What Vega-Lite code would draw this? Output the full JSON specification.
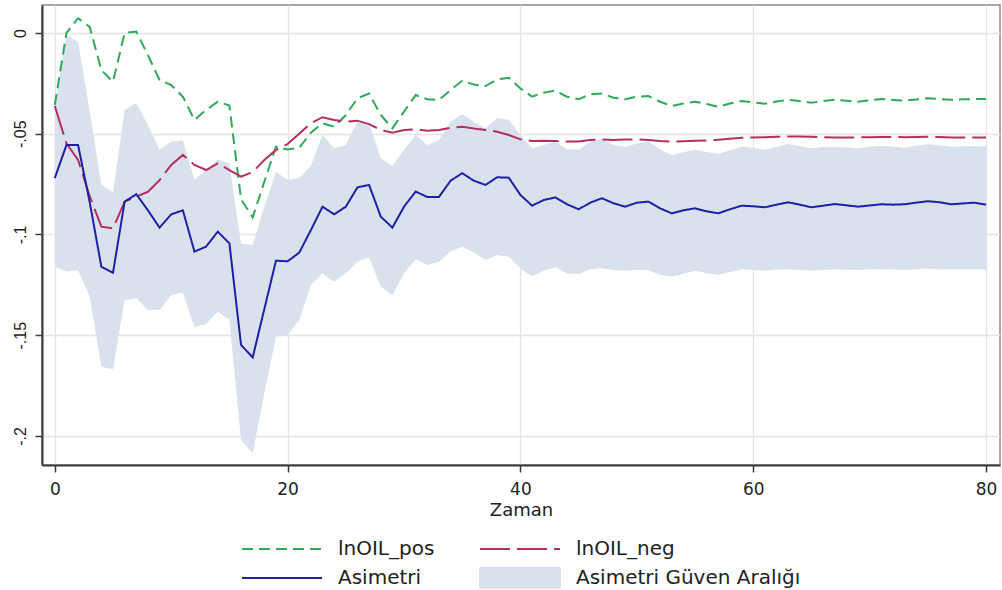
{
  "$schema": "https://vega.github.io/schema/vega-lite/v6.json",
  "autosize": {"type": "none"},
  "width": 958,
  "height": 460,
  "padding": {"left": 42, "top": 5, "right": 2, "bottom": 125},
  "background": "white",
  "config": {
    "font": "DejaVu Sans",
    "view": {"stroke": "#8c8c8c", "strokeWidth": 1.5},
    "axis": {
      "gridColor": "#e4e4e4",
      "gridWidth": 1.3,
      "domainColor": "#3a3a3a",
      "domainWidth": 2,
      "tickColor": "#3a3a3a",
      "tickWidth": 1.5,
      "tickSize": 7,
      "labelColor": "#222222",
      "titleColor": "#222222",
      "labelFont": "DejaVu Sans",
      "titleFont": "DejaVu Sans"
    },
    "legend": {"layout": {"bottom": {"anchor": "middle"}}}
  },
  "data": {"values": [
    {"t":0,"lnOIL_pos":-0.0357,"lnOIL_neg":-0.0362,"Asimetri":-0.0720,"lo":-0.1160,"hi":-0.0360},
    {"t":1,"lnOIL_pos":0.0000,"lnOIL_neg":-0.0548,"Asimetri":-0.0556,"lo":-0.1184,"hi":-0.0010},
    {"t":2,"lnOIL_pos":0.0073,"lnOIL_neg":-0.0630,"Asimetri":-0.0556,"lo":-0.1176,"hi":-0.0043},
    {"t":3,"lnOIL_pos":0.0030,"lnOIL_neg":-0.0810,"Asimetri":-0.0840,"lo":-0.1309,"hi":-0.0390},
    {"t":4,"lnOIL_pos":-0.0184,"lnOIL_neg":-0.0961,"Asimetri":-0.1160,"lo":-0.1656,"hi":-0.0754},
    {"t":5,"lnOIL_pos":-0.0242,"lnOIL_neg":-0.0970,"Asimetri":-0.1190,"lo":-0.1669,"hi":-0.0792},
    {"t":6,"lnOIL_pos":0.0000,"lnOIL_neg":-0.0837,"Asimetri":-0.0837,"lo":-0.1325,"hi":-0.0382},
    {"t":7,"lnOIL_pos":0.0007,"lnOIL_neg":-0.0812,"Asimetri":-0.0800,"lo":-0.1317,"hi":-0.0346},
    {"t":8,"lnOIL_pos":-0.0110,"lnOIL_neg":-0.0788,"Asimetri":-0.0880,"lo":-0.1375,"hi":-0.0457},
    {"t":9,"lnOIL_pos":-0.0233,"lnOIL_neg":-0.0730,"Asimetri":-0.0966,"lo":-0.1375,"hi":-0.0580},
    {"t":10,"lnOIL_pos":-0.0258,"lnOIL_neg":-0.0655,"Asimetri":-0.0900,"lo":-0.1300,"hi":-0.0540},
    {"t":11,"lnOIL_pos":-0.0316,"lnOIL_neg":-0.0605,"Asimetri":-0.0880,"lo":-0.1287,"hi":-0.0531},
    {"t":12,"lnOIL_pos":-0.0432,"lnOIL_neg":-0.0655,"Asimetri":-0.1085,"lo":-0.1460,"hi":-0.0730},
    {"t":13,"lnOIL_pos":-0.0382,"lnOIL_neg":-0.0680,"Asimetri":-0.1060,"lo":-0.1444,"hi":-0.0680},
    {"t":14,"lnOIL_pos":-0.0341,"lnOIL_neg":-0.0647,"Asimetri":-0.0986,"lo":-0.1383,"hi":-0.0627},
    {"t":15,"lnOIL_pos":-0.0360,"lnOIL_neg":-0.0680,"Asimetri":-0.1044,"lo":-0.1424,"hi":-0.0650},
    {"t":16,"lnOIL_pos":-0.0825,"lnOIL_neg":-0.0713,"Asimetri":-0.1548,"lo":-0.2020,"hi":-0.1047},
    {"t":17,"lnOIL_pos":-0.0915,"lnOIL_neg":-0.0690,"Asimetri":-0.1610,"lo":-0.2086,"hi":-0.1052},
    {"t":18,"lnOIL_pos":-0.0738,"lnOIL_neg":-0.0630,"Asimetri":-0.1370,"lo":-0.1787,"hi":-0.0862},
    {"t":19,"lnOIL_pos":-0.0564,"lnOIL_neg":-0.0580,"Asimetri":-0.1130,"lo":-0.1507,"hi":-0.0688},
    {"t":20,"lnOIL_pos":-0.0578,"lnOIL_neg":-0.0551,"Asimetri":-0.1133,"lo":-0.1499,"hi":-0.0730},
    {"t":21,"lnOIL_pos":-0.0570,"lnOIL_neg":-0.0500,"Asimetri":-0.1090,"lo":-0.1424,"hi":-0.0720},
    {"t":22,"lnOIL_pos":-0.0495,"lnOIL_neg":-0.0448,"Asimetri":-0.0978,"lo":-0.1250,"hi":-0.0660},
    {"t":23,"lnOIL_pos":-0.0448,"lnOIL_neg":-0.0418,"Asimetri":-0.0862,"lo":-0.1193,"hi":-0.0506},
    {"t":24,"lnOIL_pos":-0.0465,"lnOIL_neg":-0.0432,"Asimetri":-0.0900,"lo":-0.1234,"hi":-0.0572},
    {"t":25,"lnOIL_pos":-0.0407,"lnOIL_neg":-0.0440,"Asimetri":-0.0862,"lo":-0.1193,"hi":-0.0556},
    {"t":26,"lnOIL_pos":-0.0324,"lnOIL_neg":-0.0435,"Asimetri":-0.0766,"lo":-0.1135,"hi":-0.0440},
    {"t":27,"lnOIL_pos":-0.0300,"lnOIL_neg":-0.0452,"Asimetri":-0.0754,"lo":-0.1113,"hi":-0.0448},
    {"t":28,"lnOIL_pos":-0.0407,"lnOIL_neg":-0.0481,"Asimetri":-0.0911,"lo":-0.1259,"hi":-0.0622},
    {"t":29,"lnOIL_pos":-0.0473,"lnOIL_neg":-0.0495,"Asimetri":-0.0966,"lo":-0.1300,"hi":-0.0660},
    {"t":30,"lnOIL_pos":-0.0390,"lnOIL_neg":-0.0481,"Asimetri":-0.0862,"lo":-0.1193,"hi":-0.0580},
    {"t":31,"lnOIL_pos":-0.0308,"lnOIL_neg":-0.0478,"Asimetri":-0.0787,"lo":-0.1123,"hi":-0.0506},
    {"t":32,"lnOIL_pos":-0.0329,"lnOIL_neg":-0.0485,"Asimetri":-0.0814,"lo":-0.1151,"hi":-0.0556},
    {"t":33,"lnOIL_pos":-0.0333,"lnOIL_neg":-0.0481,"Asimetri":-0.0814,"lo":-0.1135,"hi":-0.0531},
    {"t":34,"lnOIL_pos":-0.0283,"lnOIL_neg":-0.0470,"Asimetri":-0.0733,"lo":-0.1085,"hi":-0.0440},
    {"t":35,"lnOIL_pos":-0.0237,"lnOIL_neg":-0.0465,"Asimetri":-0.0696,"lo":-0.1060,"hi":-0.0402},
    {"t":36,"lnOIL_pos":-0.0256,"lnOIL_neg":-0.0474,"Asimetri":-0.0733,"lo":-0.1090,"hi":-0.0440},
    {"t":37,"lnOIL_pos":-0.0263,"lnOIL_neg":-0.0481,"Asimetri":-0.0754,"lo":-0.1127,"hi":-0.0473},
    {"t":38,"lnOIL_pos":-0.0230,"lnOIL_neg":-0.0490,"Asimetri":-0.0716,"lo":-0.1102,"hi":-0.0423},
    {"t":39,"lnOIL_pos":-0.0222,"lnOIL_neg":-0.0506,"Asimetri":-0.0718,"lo":-0.1110,"hi":-0.0430},
    {"t":40,"lnOIL_pos":-0.0275,"lnOIL_neg":-0.0528,"Asimetri":-0.0804,"lo":-0.1168,"hi":-0.0506},
    {"t":41,"lnOIL_pos":-0.0316,"lnOIL_neg":-0.0536,"Asimetri":-0.0857,"lo":-0.1209,"hi":-0.0572},
    {"t":42,"lnOIL_pos":-0.0296,"lnOIL_neg":-0.0535,"Asimetri":-0.0829,"lo":-0.1180,"hi":-0.0556},
    {"t":43,"lnOIL_pos":-0.0286,"lnOIL_neg":-0.0536,"Asimetri":-0.0816,"lo":-0.1163,"hi":-0.0540},
    {"t":44,"lnOIL_pos":-0.0316,"lnOIL_neg":-0.0539,"Asimetri":-0.0850,"lo":-0.1193,"hi":-0.0577},
    {"t":45,"lnOIL_pos":-0.0329,"lnOIL_neg":-0.0539,"Asimetri":-0.0875,"lo":-0.1196,"hi":-0.0580},
    {"t":46,"lnOIL_pos":-0.0304,"lnOIL_neg":-0.0531,"Asimetri":-0.0842,"lo":-0.1173,"hi":-0.0540},
    {"t":47,"lnOIL_pos":-0.0300,"lnOIL_neg":-0.0528,"Asimetri":-0.0820,"lo":-0.1168,"hi":-0.0523},
    {"t":48,"lnOIL_pos":-0.0321,"lnOIL_neg":-0.0531,"Asimetri":-0.0845,"lo":-0.1176,"hi":-0.0556},
    {"t":49,"lnOIL_pos":-0.0329,"lnOIL_neg":-0.0528,"Asimetri":-0.0862,"lo":-0.1180,"hi":-0.0564},
    {"t":50,"lnOIL_pos":-0.0316,"lnOIL_neg":-0.0528,"Asimetri":-0.0842,"lo":-0.1176,"hi":-0.0548},
    {"t":51,"lnOIL_pos":-0.0313,"lnOIL_neg":-0.0531,"Asimetri":-0.0837,"lo":-0.1178,"hi":-0.0540},
    {"t":52,"lnOIL_pos":-0.0341,"lnOIL_neg":-0.0536,"Asimetri":-0.0870,"lo":-0.1200,"hi":-0.0577},
    {"t":53,"lnOIL_pos":-0.0362,"lnOIL_neg":-0.0539,"Asimetri":-0.0895,"lo":-0.1209,"hi":-0.0605},
    {"t":54,"lnOIL_pos":-0.0350,"lnOIL_neg":-0.0537,"Asimetri":-0.0880,"lo":-0.1195,"hi":-0.0592},
    {"t":55,"lnOIL_pos":-0.0341,"lnOIL_neg":-0.0535,"Asimetri":-0.0870,"lo":-0.1180,"hi":-0.0580},
    {"t":56,"lnOIL_pos":-0.0352,"lnOIL_neg":-0.0533,"Asimetri":-0.0885,"lo":-0.1192,"hi":-0.0590},
    {"t":57,"lnOIL_pos":-0.0366,"lnOIL_neg":-0.0530,"Asimetri":-0.0895,"lo":-0.1200,"hi":-0.0600},
    {"t":58,"lnOIL_pos":-0.0350,"lnOIL_neg":-0.0525,"Asimetri":-0.0875,"lo":-0.1186,"hi":-0.0582},
    {"t":59,"lnOIL_pos":-0.0337,"lnOIL_neg":-0.0520,"Asimetri":-0.0857,"lo":-0.1173,"hi":-0.0564},
    {"t":60,"lnOIL_pos":-0.0344,"lnOIL_neg":-0.0518,"Asimetri":-0.0860,"lo":-0.1176,"hi":-0.0570},
    {"t":61,"lnOIL_pos":-0.0351,"lnOIL_neg":-0.0517,"Asimetri":-0.0865,"lo":-0.1180,"hi":-0.0580},
    {"t":62,"lnOIL_pos":-0.0340,"lnOIL_neg":-0.0515,"Asimetri":-0.0852,"lo":-0.1175,"hi":-0.0565},
    {"t":63,"lnOIL_pos":-0.0331,"lnOIL_neg":-0.0514,"Asimetri":-0.0840,"lo":-0.1173,"hi":-0.0551},
    {"t":64,"lnOIL_pos":-0.0338,"lnOIL_neg":-0.0514,"Asimetri":-0.0852,"lo":-0.1176,"hi":-0.0562},
    {"t":65,"lnOIL_pos":-0.0346,"lnOIL_neg":-0.0515,"Asimetri":-0.0865,"lo":-0.1180,"hi":-0.0572},
    {"t":66,"lnOIL_pos":-0.0338,"lnOIL_neg":-0.0517,"Asimetri":-0.0857,"lo":-0.1176,"hi":-0.0566},
    {"t":67,"lnOIL_pos":-0.0331,"lnOIL_neg":-0.0518,"Asimetri":-0.0849,"lo":-0.1173,"hi":-0.0564},
    {"t":68,"lnOIL_pos":-0.0336,"lnOIL_neg":-0.0518,"Asimetri":-0.0855,"lo":-0.1175,"hi":-0.0567},
    {"t":69,"lnOIL_pos":-0.0341,"lnOIL_neg":-0.0518,"Asimetri":-0.0862,"lo":-0.1176,"hi":-0.0572},
    {"t":70,"lnOIL_pos":-0.0334,"lnOIL_neg":-0.0517,"Asimetri":-0.0856,"lo":-0.1173,"hi":-0.0565},
    {"t":71,"lnOIL_pos":-0.0328,"lnOIL_neg":-0.0516,"Asimetri":-0.0850,"lo":-0.1172,"hi":-0.0559},
    {"t":72,"lnOIL_pos":-0.0332,"lnOIL_neg":-0.0516,"Asimetri":-0.0852,"lo":-0.1174,"hi":-0.0564},
    {"t":73,"lnOIL_pos":-0.0336,"lnOIL_neg":-0.0517,"Asimetri":-0.0850,"lo":-0.1176,"hi":-0.0569},
    {"t":74,"lnOIL_pos":-0.0330,"lnOIL_neg":-0.0516,"Asimetri":-0.0842,"lo":-0.1173,"hi":-0.0560},
    {"t":75,"lnOIL_pos":-0.0324,"lnOIL_neg":-0.0515,"Asimetri":-0.0835,"lo":-0.1170,"hi":-0.0552},
    {"t":76,"lnOIL_pos":-0.0328,"lnOIL_neg":-0.0516,"Asimetri":-0.0840,"lo":-0.1172,"hi":-0.0557},
    {"t":77,"lnOIL_pos":-0.0331,"lnOIL_neg":-0.0518,"Asimetri":-0.0850,"lo":-0.1173,"hi":-0.0564},
    {"t":78,"lnOIL_pos":-0.0329,"lnOIL_neg":-0.0518,"Asimetri":-0.0846,"lo":-0.1172,"hi":-0.0562},
    {"t":79,"lnOIL_pos":-0.0328,"lnOIL_neg":-0.0518,"Asimetri":-0.0842,"lo":-0.1172,"hi":-0.0561},
    {"t":80,"lnOIL_pos":-0.0328,"lnOIL_neg":-0.0519,"Asimetri":-0.0852,"lo":-0.1173,"hi":-0.0564}
  ]},
  "encoding": {
    "x": {
      "field": "t", "type": "quantitative",
      "scale": {"domain": [-1.1, 81.2], "nice": false, "zero": false},
      "axis": {"values": [0, 20, 40, 60, 80], "title": "Zaman", "labelFontSize": 17, "titleFontSize": 18, "titleFontWeight": "normal", "labelPadding": 9, "titlePadding": 4, "labelFlush": false}
    }
  },
  "layer": [
    {
      "mark": {"type": "area", "color": "#d8e1ec", "opacity": 1},
      "encoding": {
        "y": {
          "field": "lo", "type": "quantitative",
          "scale": {"domain": [-0.2144, 0.0139], "nice": false, "zero": false},
          "axis": {"values": [0, -0.05, -0.1, -0.15, -0.2], "title": null, "labelAngle": 270, "labelAlign": "center", "labelBaseline": "alphabetic", "labelFont": "Liberation Sans", "labelFontSize": 16, "labelPadding": 10, "labelFlush": false,
            "labelExpr": "datum.value == 0 ? '0' : '-' + replace(format(abs(datum.value), '.2~f'), '0.', '.')"}
        },
        "y2": {"field": "hi"}
      }
    },
    {
      "transform": [{"fold": ["lnOIL_pos", "lnOIL_neg", "Asimetri"], "as": ["series", "value"]}],
      "mark": {"type": "line", "strokeWidth": 2},
      "encoding": {
        "y": {"field": "value", "type": "quantitative"},
        "color": {
          "field": "series", "type": "nominal",
          "scale": {"domain": ["lnOIL_pos", "lnOIL_neg", "Asimetri", "Asimetri Güven Aralığı"], "range": ["#2eaa5a", "#b3305e", "#2020a4", "#d8e1ec"]},
          "legend": {
            "title": null, "orient": "bottom", "direction": "horizontal", "columns": 2,
            "labelFont": "DejaVu Sans", "labelFontSize": 20, "labelColor": "#222222",
            "symbolSize": 400, "symbolStrokeWidth": 2, "labelOffset": 75,
            "rowPadding": 5, "columnPadding": 41, "offset": 19, "padding": 0,
            "labelLimit": 400,
            "encode": {
              "symbols": {
                "update": {
                  "shape": [{"test": "datum.value === 'Asimetri Güven Aralığı'", "value": "M-1,-1H7V1H-1Z"}, {"value": "M-1,0H7"}],
                  "fill": [{"test": "datum.value === 'Asimetri Güven Aralığı'", "value": "#d8e1ec"}, {"value": "transparent"}],
                  "strokeDash": [{"test": "datum.value === 'lnOIL_pos'", "value": [11, 6]}, {"test": "datum.value === 'lnOIL_neg'", "value": [30, 7]}, {"value": [1, 0]}]
                }
              }
            }
          }
        },
        "strokeDash": {
          "field": "series", "type": "nominal",
          "scale": {"domain": ["lnOIL_pos", "lnOIL_neg", "Asimetri"], "range": [[11, 6], [30, 7], [1, 0]]},
          "legend": null
        }
      }
    }
  ]
}
